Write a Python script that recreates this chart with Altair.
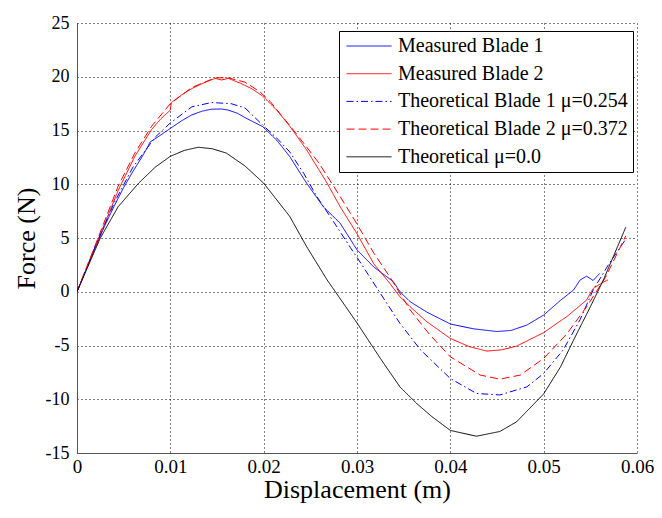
import altair as alt
import pandas as pd

# ---- data ----
mb1_x = [0, 0.001, 0.002, 0.003, 0.004, 0.005, 0.006, 0.007, 0.0076, 0.0078, 0.009, 0.010, 0.0112, 0.0123,
         0.0134, 0.0144, 0.0155, 0.0162, 0.0172, 0.018, 0.0199, 0.0214, 0.0228, 0.0246, 0.0264, 0.0282, 0.030,
         0.0318, 0.0339, 0.0346, 0.0357, 0.0375, 0.040, 0.0425, 0.045, 0.0465, 0.0482, 0.050, 0.0518, 0.0532,
         0.0539, 0.0546, 0.0553, 0.0560]
mb1_y = [0, 2.1, 4.2, 6.2, 8.0, 9.7, 11.2, 12.6, 13.5, 13.9, 14.6, 15.2, 15.9, 16.45,
         16.8, 16.98, 17.0, 16.9, 16.6, 16.2, 15.36, 14.1, 12.57, 10.1, 7.9, 6.37, 3.9,
         2.3, 0.93, 0.0, -0.93, -1.9, -3.0, -3.45, -3.7, -3.6, -3.1, -2.17, -0.8, 0.16,
         1.09, 1.45, 1.05, 1.7]

mb2_x = [0, 0.001, 0.002, 0.003, 0.0044, 0.0062, 0.008, 0.0090, 0.0100, 0.0101, 0.0112, 0.0123, 0.0135,
         0.0148, 0.0155, 0.0162, 0.0175, 0.0187, 0.0199, 0.0214, 0.0228, 0.0246, 0.0268, 0.0282, 0.030,
         0.0318, 0.0335, 0.0346, 0.0357, 0.0375, 0.040, 0.042, 0.0439, 0.0455, 0.0471, 0.050, 0.0525,
         0.0546, 0.0553, 0.0564, 0.0569]
mb2_y = [0, 2.1, 4.3, 6.4, 9.4, 12.6, 15.1, 16.1, 16.9, 17.6, 18.3, 18.9, 19.4,
         19.85, 19.7, 19.85, 19.4, 18.9, 18.2, 16.9, 15.4, 13.2, 10.1, 7.9, 5.4,
         2.6, 0.8, -0.47, -1.4, -2.8, -4.34, -5.1, -5.52, -5.4, -5.06, -3.8, -2.3,
         -0.77, 0.3, 0.9, 1.1]

tb1_x = [0, 0.002, 0.004, 0.006, 0.0084, 0.010, 0.0123, 0.0144, 0.0165, 0.018, 0.0199, 0.0214, 0.0228,
         0.0243, 0.0257, 0.0275, 0.0293, 0.030, 0.0312, 0.0325, 0.0346, 0.0368, 0.040, 0.0428, 0.0453,
         0.0482, 0.050, 0.0521, 0.0539, 0.0553, 0.057, 0.0588]
tb1_y = [0, 4.3, 8.3, 11.6, 14.4, 15.7, 17.2, 17.6, 17.5, 17.1, 15.5, 14.3, 13.0,
         11.0, 8.85, 6.5, 4.1, 3.2, 1.6, -0.15, -2.94, -5.4, -8.07, -9.46, -9.6,
         -8.85, -7.6, -5.4, -2.6, 0.16, 2.6, 4.9]

tb2_x = [0, 0.0009, 0.0023, 0.0044, 0.0062, 0.008, 0.010, 0.0123, 0.0148, 0.0162, 0.018, 0.0196, 0.0207,
         0.0235, 0.0259, 0.0282, 0.030, 0.0318, 0.0335, 0.0357, 0.0378, 0.040, 0.0432, 0.0453, 0.0475,
         0.050, 0.0525, 0.0546, 0.0566, 0.0588]
tb2_y = [0, 2.0, 5.1, 9.8, 12.9, 15.4, 17.5, 19.0, 19.9, 19.9, 19.5, 18.6, 17.7,
         14.7, 12.0, 8.85, 6.3, 3.6, 1.4, -1.7, -4.0, -6.05, -7.75, -8.13, -7.75,
         -6.2, -3.9, -1.4, 1.3, 5.2]

t0_x = [0, 0.0025, 0.0044, 0.0066, 0.0084, 0.010, 0.0115, 0.013, 0.0145, 0.016, 0.018, 0.020, 0.0228,
        0.0246, 0.0268, 0.030, 0.0325, 0.0346, 0.0364, 0.038, 0.040, 0.0428, 0.0453, 0.0471, 0.050,
        0.0518, 0.0532, 0.055, 0.0564, 0.0588]
t0_y = [0, 5.0, 7.9, 10.1, 11.6, 12.6, 13.15, 13.44, 13.3, 12.9, 11.7, 10.1, 7.0,
        4.2, 1.1, -2.9, -6.2, -8.85, -10.4, -11.6, -12.9, -13.44, -13.0, -12.1, -9.5,
        -7.0, -4.5, -1.4, 1.1, 6.0]

series_names = ["Measured Blade 1", "Measured Blade 2",
                "Theoretical Blade 1 \u03bc=0.254", "Theoretical Blade 2 \u03bc=0.372",
                "Theoretical \u03bc=0.0"]
series_colors = ["#0000ff", "#ff0000", "#0000ff", "#ff0000", "#000000"]
series_dashes = [[1, 0], [1, 0], [7, 3, 1.5, 3], [8, 4], [1, 0]]

x_ticks = [0, 0.01, 0.02, 0.03, 0.04, 0.05, 0.06]
y_ticks = [-15, -10, -5, 0, 5, 10, 15, 20, 25]

rows = []
for name, xs, ys in zip(series_names,
                        [mb1_x, mb2_x, tb1_x, tb2_x, t0_x],
                        [mb1_y, mb2_y, tb1_y, tb2_y, t0_y]):
    for i, (xv, yv) in enumerate(zip(xs, ys)):
        rows.append({"series": name, "x": xv, "y": yv, "order": i})
df = pd.DataFrame(rows)

FONT = "Times New Roman, Liberation Serif, serif"

legend_kw = dict(
    title=None, orient="none", legendX=262, legendY=8,
    symbolType="stroke", symbolSize=2025, symbolStrokeWidth=1,
    labelFont=FONT, labelFontSize=20, labelColor="black", labelLimit=400,
    padding=5, rowPadding=7.7, clipHeight=20, labelOffset=6, symbolOffset=2,
    strokeColor="black", fillColor="white", cornerRadius=0,
)

chart = alt.Chart(df).mark_line(strokeWidth=1, clip=True).encode(
    x=alt.X("x:Q",
            scale=alt.Scale(domain=[0, 0.06], nice=False, zero=False),
            axis=alt.Axis(values=x_ticks, format=".2~f", title="Displacement (m)",
                          labelFontSize=19, labelPadding=4, titlePadding=0, labelFlush=False)),
    y=alt.Y("y:Q",
            scale=alt.Scale(domain=[-15, 25], nice=False),
            axis=alt.Axis(values=y_ticks, title="Force (N)", labelExpr="'' + datum.value",
                          labelFontSize=18, labelPadding=8, titlePadding=6, labelFlush=False)),
    color=alt.Color("series:N", scale=alt.Scale(domain=series_names, range=series_colors),
                    legend=alt.Legend(**legend_kw)),
    strokeDash=alt.StrokeDash("series:N", scale=alt.Scale(domain=series_names, range=series_dashes),
                              legend=alt.Legend(**legend_kw)),
    order="order:Q",
).properties(
    width=560, height=430,
    padding={"left": 69, "top": 15, "right": 17, "bottom": 62},
    autosize=alt.AutoSizeParams(type="none"),
    background="white",
).configure_view(
    stroke="transparent"
).configure_axis(
    labelFont=FONT, labelColor="black",
    titleFont=FONT, titleFontSize=26, titleFontWeight="normal", titleColor="black",
    domainColor="#555555", domainWidth=1,
    tickSize=0,
    grid=True, gridColor="black", gridDash=[1, 3], gridOpacity=1, gridWidth=1,
)

chart.save("out.html", embed_options={"renderer": "svg", "actions": False})
